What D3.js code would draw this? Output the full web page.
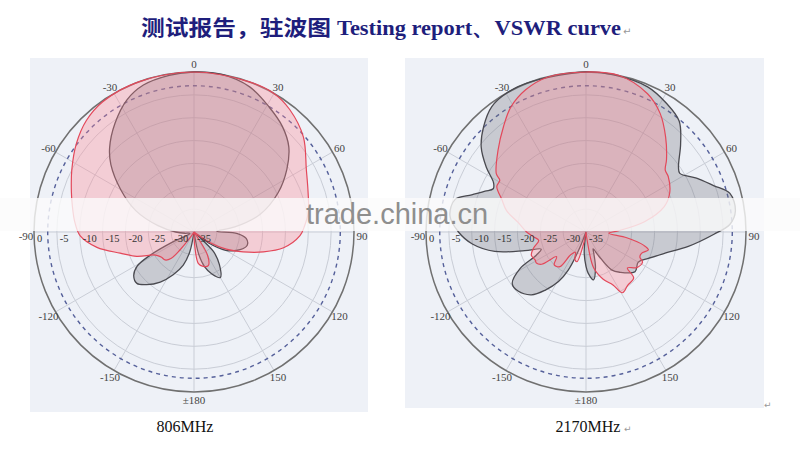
<!DOCTYPE html>
<html><head><meta charset="utf-8">
<script src="https://cdn.jsdelivr.net/npm/d3@7"></script>
<style>body{margin:0;background:#fff}svg{display:block}</style>
</head><body>
<svg id="c" width="800" height="450"></svg>
<script>
// ---------- data ----------
const titleZh = "测试报告，驻波图";
const titleEn = "Testing report、VSWR curve";
const frequencies = ["806MHz", "2170MHz"];
const angleTicks = [0, 30, 60, 90, 120, 150, 180, -150, -120, -90, -60, -30];
const angleTickLabels = ["0", "30", "60", "90", "120", "150", "±180", "-150", "-120", "-90", "-60", "-30"];
const dbTicks = [0, -5, -10, -15, -20, -25, -30, -35];
const refLevel = -3; // dashed circle

// [angle in degrees (0 = top, clockwise), level in dB]
const gray806 = [[-180,-35],[-175,-35],[-168,-30.6],[-162,-27.4],[-154,-24.6],[-146,-21.8],[-138,-19.5],[-132,-18.2],[-126,-18.7],[-121,-20.5],[-118,-24],[-115,-30],[-112,-34],[-105,-34],[-98,-33],[-90,-31],[-80,-27],[-70,-21.5],[-60,-16.5],[-51,-11.6],[-45,-8.9],[-36,-5.6],[-27,-2.6],[-19,-1.0],[-9,-0.3],[0,0],[10,0],[21,-1.0],[31,-3.1],[40,-4.9],[48,-7.1],[56,-10.5],[65,-14.7],[75,-20],[83,-26],[88,-30],[92,-25.5],[97,-23.5],[104,-23],[111,-24.2],[120,-27],[127,-31],[131,-34],[135,-29],[142,-26],[150,-23.5],[157,-25],[163,-27],[168,-30],[173,-35]];
const red806 = [[-180,-35],[-150,-35],[-145,-33],[-142,-30],[-139,-27.3],[-134,-26.2],[-128,-26],[-123,-25.5],[-119.5,-24.8],[-113,-21.4],[-106,-18.2],[-99,-13.5],[-92,-10.1],[-85,-8.8],[-78,-7.8],[-72,-6.8],[-63,-5.0],[-53,-2.8],[-44,-1.1],[-35,-0.2],[-20,0],[0,0],[20,0],[30,0],[38,-1.0],[49,-3.3],[61,-6.9],[71,-8.6],[80,-9.6],[87,-10.8],[92,-11.8],[100,-15.1],[106,-19.2],[112,-23.4],[118,-27],[124,-31],[130,-35],[145,-35],[150,-29],[157,-27],[165,-27.2],[172,-28],[177,-32]];
const gray2170 = [[-180,-27.5],[-175,-30.5],[-170,-35],[-163,-35],[-158,-30.5],[-155,-25.8],[-151,-22.6],[-145,-19.5],[-139,-16.8],[-131,-15.3],[-125,-15.3],[-119,-18.5],[-115,-23],[-111,-24.5],[-107,-21],[-102,-14.6],[-96,-10],[-90,-7.1],[-83,-5],[-76,-5.5],[-72,-8.7],[-68,-11.2],[-65,-12.6],[-62,-12.1],[-57,-9.0],[-51,-5.5],[-44,-2.8],[-37,-0.7],[-30,0],[-20,0],[0,0],[10,-0.1],[23,-0.5],[32,-1.8],[40,-3.3],[47,-6.7],[55,-10.3],[58,-10.8],[64,-8.1],[70,-5.3],[75,-2.4],[82,-2],[87,-3.5],[91,-7],[98,-12.4],[105,-17.1],[113,-20.2],[120,-21.8],[129,-21.2],[140,-23.5],[146,-25],[152,-29],[157,-31],[160,-30],[165,-27],[171,-24.4],[177,-26]];
const red2170 = [[-180,-35],[-172,-35],[-168,-32],[-163,-28.2],[-158,-28.5],[-152,-30],[-146,-29],[-143,-25.5],[-136,-25],[-130,-26.6],[-126,-23],[-122,-22.2],[-119,-22.3],[-113,-22],[-107,-23],[-100,-24.5],[-95,-23.4],[-90,-22],[-82,-20],[-75,-17],[-69,-15.3],[-63,-13.1],[-59,-13],[-57,-11.6],[-47,-8.7],[-38,-5.7],[-31,-3.1],[-23,-1.2],[-14,-0.1],[0,0],[12,0],[24,-1.9],[32,-4.4],[40,-7.9],[48,-11.3],[52,-13],[56,-13.3],[65,-14.8],[72,-17],[80,-22],[88,-28],[93,-30],[98,-26],[103,-22],[106,-20.8],[111,-22],[115,-22],[118,-21],[125,-21.4],[131,-23],[134,-20.5],[142,-20.2],[149,-19.5],[153,-22],[160,-24],[168,-27],[172,-33],[176,-35]];

// ---------- layout ----------
const R = 160;
const charts = [
  {cx: 194, cy: 232, panel: [30, 58, 338, 354], gray: gray806, red: red806, label: frequencies[0], labelX: 185, mark: false},
  {cx: 586, cy: 232, panel: [405, 58, 359, 350], gray: gray2170, red: red2170, label: frequencies[1], labelX: 588, mark: true}
];

const svg = d3.select("#c");
const rScale = d3.scaleLinear().domain([-35, 0]).range([0, R]).clamp(true);
const rad = d => d * Math.PI / 180;

// title
svg.append("text").attr("x", 141).attr("y", 35)
  .attr("font-family", "'Noto Sans CJK SC'").attr("font-weight", "bold").attr("font-size", 21)
  .attr("fill", "#1e1e7c").attr("textLength", 190).attr("lengthAdjust", "spacingAndGlyphs")
  .text(titleZh);
svg.append("text").attr("x", 337).attr("y", 35)
  .attr("font-family", "'Liberation Serif', serif").attr("font-weight", "bold").attr("font-size", 22)
  .attr("fill", "#1e1e7c").attr("textLength", 284).attr("lengthAdjust", "spacingAndGlyphs")
  .text(titleEn);
svg.append("text").attr("x", 623).attr("y", 35).attr("font-size", 10)
  .attr("font-family", "'DejaVu Sans'").attr("fill", "#999").text("↵");

const line = d3.lineRadial()
  .angle(d => rad(d[0]))
  .radius(d => rScale(d[1]))
  .curve(d3.curveCatmullRomClosed.alpha(0.5));

charts.forEach(ch => {
  const [px, py, pw, ph] = ch.panel;
  svg.append("rect").attr("x", px).attr("y", py).attr("width", pw).attr("height", ph).attr("fill", "#eef1f7");
  const g = svg.append("g").attr("transform", `translate(${ch.cx},${ch.cy})`);

  g.selectAll("circle.grid").data(dbTicks.filter(d => d > -35 && d < 0)).join("circle")
    .attr("r", d => rScale(d)).attr("fill", "none").attr("stroke", "#c9cdd6").attr("stroke-width", 1);
  g.selectAll("line.spoke").data(angleTicks).join("line")
    .attr("x1", 0).attr("y1", 0)
    .attr("x2", d => R * Math.sin(rad(d))).attr("y2", d => -R * Math.cos(rad(d)))
    .attr("stroke", "#c9cdd6").attr("stroke-width", 1);
  g.append("circle").attr("r", rScale(refLevel)).attr("fill", "none")
    .attr("stroke", "#55609a").attr("stroke-width", 1.4).attr("stroke-dasharray", "4,4");
  g.append("circle").attr("r", R).attr("fill", "none").attr("stroke", "#707070").attr("stroke-width", 1.5);

  g.append("path").attr("d", line(ch.gray))
    .attr("fill", "rgba(111,114,121,0.30)").attr("stroke", "#4a4a50").attr("stroke-width", 1.3);
  g.append("path").attr("d", line(ch.red))
    .attr("fill", "rgba(255,135,145,0.33)").attr("stroke", "#e3485a").attr("stroke-width", 1.2);

  g.selectAll("text.ang").data(angleTicks).join("text")
    .attr("x", d => 168 * Math.sin(rad(d)))
    .attr("y", d => -168 * Math.cos(rad(d)) + (Math.abs(d) === 90 ? 4 : 0))
    .attr("text-anchor", "middle").attr("dominant-baseline", "central")
    .attr("font-family", "'Liberation Serif', serif").attr("font-size", 11).attr("fill", "#444")
    .text((d, i) => angleTickLabels[i]);

  svg.append("text").attr("x", ch.labelX).attr("y", 432).attr("text-anchor", "middle")
    .attr("font-family", "'Liberation Serif', serif").attr("font-size", 16).attr("fill", "#111")
    .text(ch.label);
  if (ch.mark) {
    svg.append("text").attr("x", 624).attr("y", 432).attr("font-size", 9)
      .attr("font-family", "'DejaVu Sans'").attr("fill", "#999").text("↵");
  }
});

// watermark band
svg.append("rect").attr("x", 0).attr("y", 198).attr("width", 800).attr("height", 33)
  .attr("fill", "#fbfbfb").attr("opacity", 0.8);
svg.append("text").attr("x", 306).attr("y", 224)
  .attr("font-family", "'Liberation Sans', Arial, sans-serif").attr("font-size", 29)
  .attr("fill", "#8e8e8e").text("trade.china.cn");

// radial dB labels (below band)
charts.forEach(ch => {
  svg.append("g").selectAll("text").data(dbTicks).join("text")
    .attr("x", d => ch.cx - rScale(d) + 3).attr("y", ch.cy + 10)
    .attr("font-family", "'Liberation Serif', serif").attr("font-size", 10.5).attr("fill", "#333")
    .text(d => d);
});

svg.append("text").attr("x", 764).attr("y", 408).attr("font-size", 9)
  .attr("font-family", "'DejaVu Sans'").attr("fill", "#999").text("↵");
</script>
</body></html>
